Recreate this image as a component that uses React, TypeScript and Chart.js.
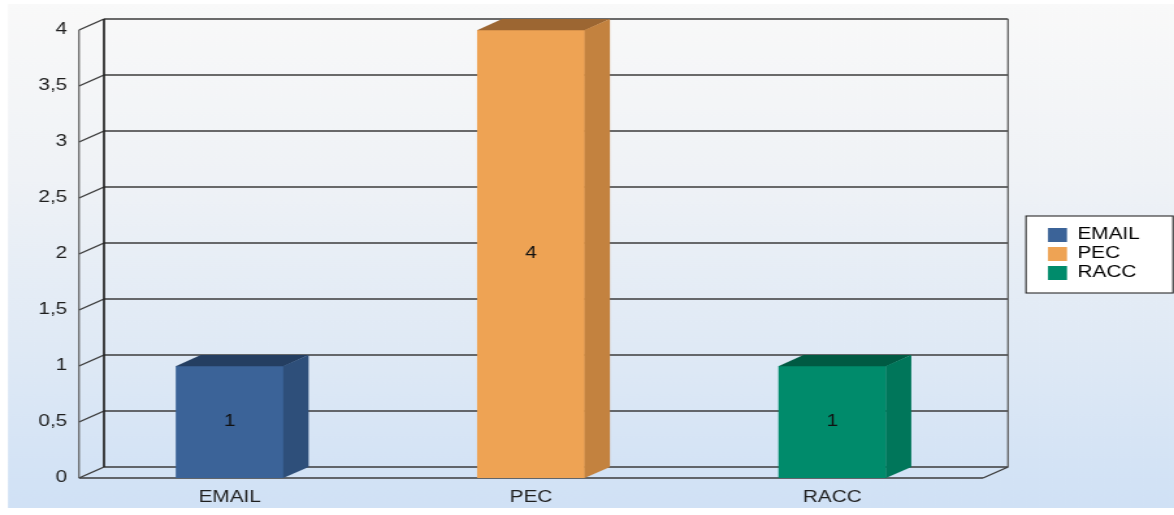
import { useEffect, useRef } from 'react';
import { Chart, registerables } from 'chart.js';

Chart.register(...registerables);

// ---- data ----
const categories = ['EMAIL', 'PEC', 'RACC'];
const values = [1, 4, 1];
const yMin = 0;
const yMax = 4;
const yStep = 0.5;

// ---- bar face colours (front, top, side) ----
const frontColors = ['#3b6398', '#eea354', '#008b6b'];
const topColors = ['#243e61', '#9c6632', '#005a43'];
const sideColors = ['#2e4f7a', '#c3823f', '#00765a'];

// ---- geometry ----
const VIEW_W = 1174;
const VIEW_H = 515;
const W = 903; // drawing width, stretched horizontally to VIEW_W
const STRETCH = VIEW_W / W;
const px = (v: number) => v / STRETCH; // screen x -> drawing x

const PLOT_LEFT = px(79);
const PLOT_RIGHT = px(983);
const PLOT_TOP = 30;
const X_AXIS_H = 37;
const DX = px(25); // depth of the 3D box
const DY = 11;
const LEGEND_PAD = 3;
const LEGEND_LEFT = px(1048) - LEGEND_PAD;
const FONT = '"Liberation Sans", Arial, Helvetica, sans-serif';
const TEXT = '#1f1f1f';

const fmt = (v: number) => String(v).replace('.', ',');

const box3d = {
  id: 'box3d',
  afterLayout(chart: any) {
    // legend centred on the plot height, placed after the wall gap
    const lg = chart.legend;
    const ca = chart.chartArea;
    if (!lg) return;
    lg.left = LEGEND_LEFT;
    lg.right = chart.width;
    lg.width = lg.right - lg.left;
    lg.top = ca.top;
    lg.bottom = ca.bottom;
    lg.height = ca.bottom - ca.top;
  },
  beforeDraw(chart: any) {
    const { ctx, width, height } = chart;
    ctx.save();
    ctx.fillStyle = '#ffffff';
    ctx.fillRect(0, 0, width, height);
    const g = ctx.createLinearGradient(0, 4, 0, 508);
    g.addColorStop(0, '#f9f9f9');
    g.addColorStop(0.35, '#eff2f6');
    g.addColorStop(1, '#d0e1f5');
    ctx.fillStyle = g;
    ctx.fillRect(px(8), 4, width - px(8), 504);

    // legend frame
    const hb = chart.legend && chart.legend.legendHitBoxes;
    if (hb && hb.length) {
      const first = hb[0];
      const last = hb[hb.length - 1];
      const l = first.left - px(22);
      const r = px(1173);
      const t = first.top - 11;
      const b = last.top + last.height + 12;
      ctx.fillStyle = '#ffffff';
      ctx.fillRect(l, t, r - l, b - t);
      ctx.strokeStyle = '#2a2a2a';
      ctx.lineWidth = 1.1;
      ctx.strokeRect(l, t, r - l, b - t);
    }
    ctx.restore();
  },
  beforeDatasetsDraw(chart: any) {
    const { ctx } = chart;
    const { left, right, top, bottom } = chart.chartArea;
    const ys = chart.scales.y;
    const line = (x1: number, y1: number, x2: number, y2: number) => {
      ctx.beginPath();
      ctx.moveTo(x1, y1);
      ctx.lineTo(x2, y2);
      ctx.stroke();
    };
    ctx.save();
    // back wall grid and left wall diagonals
    ctx.strokeStyle = '#3b3b3b';
    ctx.lineWidth = 1.4;
    ys.ticks.forEach((t: any) => {
      const py = ys.getPixelForValue(t.value);
      line(left + DX, py - DY, right + DX, py - DY);
      line(left, py, left + DX, py - DY);
    });
    // floor front edge
    line(left, bottom, right, bottom);
    line(right, bottom, right + DX, bottom - DY);
    // back corner verticals
    ctx.strokeStyle = '#232323';
    ctx.lineWidth = 1.7;
    line(left + DX, top - DY, left + DX, bottom - DY);
    ctx.strokeStyle = '#5c5c5c';
    ctx.lineWidth = 1.3;
    line(right + DX, top - DY, right + DX, bottom - DY);
    // front axis
    ctx.strokeStyle = '#5a5a5a';
    ctx.lineWidth = 1.2;
    line(left, top, left, bottom);
    ctx.restore();
  },
  afterDatasetsDraw(chart: any) {
    const { ctx } = chart;
    const meta = chart.getDatasetMeta(0);
    ctx.save();
    meta.data.forEach((bar: any, i: number) => {
      const { x, y, base, width } = bar.getProps(['x', 'y', 'base', 'width'], true);
      const l = x - width / 2;
      const r = x + width / 2;
      // top face
      ctx.fillStyle = topColors[i];
      ctx.beginPath();
      ctx.moveTo(l, y + 0.3);
      ctx.lineTo(l + DX, y - DY);
      ctx.lineTo(r + DX, y - DY);
      ctx.lineTo(r, y + 0.3);
      ctx.closePath();
      ctx.fill();
      // side face
      ctx.fillStyle = sideColors[i];
      ctx.beginPath();
      ctx.moveTo(r - 0.3, y);
      ctx.lineTo(r + DX, y - DY);
      ctx.lineTo(r + DX, base - DY);
      ctx.lineTo(r - 0.3, base);
      ctx.closePath();
      ctx.fill();
      // value label
      ctx.fillStyle = '#111111';
      ctx.font = `16px ${FONT}`;
      ctx.textAlign = 'center';
      ctx.textBaseline = 'middle';
      ctx.fillText(fmt(values[i]), x, (y + base) / 2);
    });
    ctx.restore();
  },
};

export default function App() {
  const canvasRef = useRef<HTMLCanvasElement | null>(null);

  useEffect(() => {
    const canvas = canvasRef.current;
    if (!canvas) return;
    Chart.defaults.font.family = FONT;
    Chart.defaults.font.size = 16;

    const chart = new Chart(canvas, {
      type: 'bar',
      data: {
        labels: categories,
        datasets: [
          {
            data: values,
            backgroundColor: frontColors,
            borderWidth: 0,
            barPercentage: 0.358,
            categoryPercentage: 1,
          },
        ],
      },
      options: {
        responsive: false,
        animation: false,
        devicePixelRatio: 1,
        layout: { padding: { top: PLOT_TOP, bottom: 0, left: 0, right: 0 } },
        scales: {
          x: {
            type: 'category',
            grid: { display: false, drawTicks: false },
            border: { display: false },
            ticks: { color: TEXT, padding: 10, font: { size: 16 } },
            afterFit: (s: any) => {
              s.height = X_AXIS_H;
            },
          },
          y: {
            type: 'linear',
            position: 'left',
            min: yMin,
            max: yMax,
            grid: { display: false, drawTicks: false },
            border: { display: false },
            ticks: {
              stepSize: yStep,
              color: TEXT,
              padding: 9,
              font: { size: 16 },
              callback: (v: any) => fmt(Number(v)),
            },
            afterFit: (s: any) => {
              s.width = PLOT_LEFT;
            },
          },
          gap: {
            type: 'linear',
            position: 'right',
            grid: { display: false, drawTicks: false },
            border: { display: false },
            ticks: { display: false },
            afterFit: (s: any) => {
              const lw = s.chart.legend ? s.chart.legend.width : 0;
              s.width = Math.max(0, s.chart.width - PLOT_RIGHT - lw);
            },
          },
        },
        plugins: {
          tooltip: { enabled: false },
          legend: {
            display: true,
            position: 'right',
            onClick: () => {},
            labels: {
              boxWidth: px(19),
              boxHeight: 14,
              padding: LEGEND_PAD,
              color: TEXT,
              font: { size: 16 },
              generateLabels: () =>
                categories.map((c, i) => ({
                  text: c,
                  fillStyle: frontColors[i],
                  strokeStyle: frontColors[i],
                  lineWidth: 0,
                  hidden: false,
                  index: i,
                  datasetIndex: 0,
                })),
            },
          },
        },
      },
      plugins: [box3d],
    } as any);

    return () => chart.destroy();
  }, []);

  return (
    <div
      style={{
        position: 'fixed',
        left: 0,
        top: 0,
        width: VIEW_W,
        height: VIEW_H,
        overflow: 'hidden',
        background: '#ffffff',
      }}
    >
      <div
        style={{
          width: W,
          height: VIEW_H,
          transform: `scaleX(${STRETCH})`,
          transformOrigin: '0 0',
        }}
      >
        <canvas ref={canvasRef} width={W} height={VIEW_H} style={{ display: 'block' }} />
      </div>
    </div>
  );
}
